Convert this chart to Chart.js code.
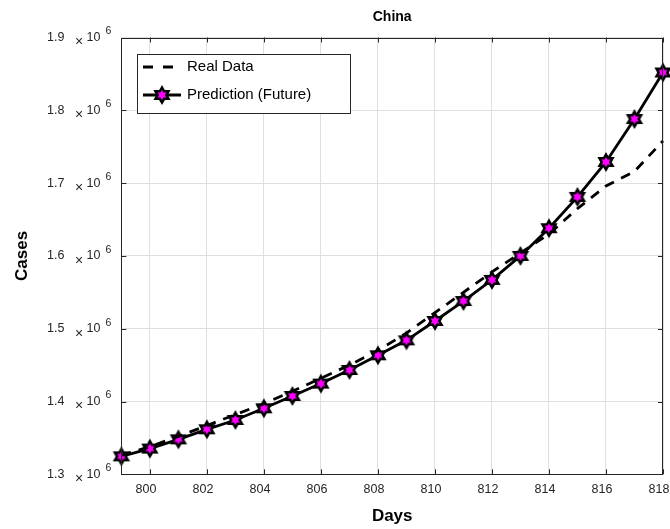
<!DOCTYPE html>
<html lang="en">
<head>
<meta charset="UTF-8">
<title>China</title>
<script src="https://cdn.jsdelivr.net/npm/chart.js"></script>
<style>
    body { margin: 0; background: #fff; }
    #wrap { width: 670px; height: 529px; }
</style>
</head>
<body>
<div id="wrap"><canvas id="myChart" width="670" height="529"></canvas></div>
<script>
const days = [799, 800, 801, 802, 803, 804, 805, 806, 807, 808, 809, 810, 811, 812, 813, 814, 815, 816, 817, 818];
const realData = [1.326e6, 1.338e6, 1.352e6, 1.367e6, 1.382e6, 1.397e6, 1.414e6, 1.432e6, 1.450e6, 1.470e6,
                  1.494e6, 1.522e6, 1.550e6, 1.578e6, 1.604e6, 1.630e6, 1.665e6, 1.696e6, 1.716e6, 1.758e6];
const prediction = [1.3247e6, 1.3353e6, 1.348e6, 1.3618e6, 1.3746e6, 1.3907e6, 1.4076e6, 1.4246e6, 1.4433e6, 1.4635e6,
                    1.484e6, 1.5106e6, 1.538e6, 1.567e6, 1.600e6, 1.638e6, 1.681e6, 1.729e6, 1.788e6, 1.852e6];
const xTicks = [800, 802, 804, 806, 808, 810, 812, 814, 816, 818];
const yTicks = [1.3e6, 1.4e6, 1.5e6, 1.6e6, 1.7e6, 1.8e6, 1.9e6];

const FONT = "'Liberation Sans', Arial, Helvetica, sans-serif";
const AXIS = '#262626';

// six pointed star marker: black edge, magenta inside
function hexagram(R, lw) {
    const size = Math.ceil(2 * (R + lw) + 4);
    const c = document.createElement('canvas');
    c.width = size; c.height = size;
    const g = c.getContext('2d');
    const cx = size / 2, cy = size / 2, r = R / Math.sqrt(3);
    g.beginPath();
    for (let i = 0; i < 12; i++) {
        const a = -Math.PI / 2 + i * Math.PI / 6;
        const rad = i % 2 === 0 ? R : r;
        const px = cx + rad * Math.cos(a), py = cy + rad * Math.sin(a);
        if (i === 0) g.moveTo(px, py); else g.lineTo(px, py);
    }
    g.closePath();
    g.fillStyle = '#ff00ff';
    g.fill();
    g.lineJoin = 'miter';
    g.miterLimit = 10;
    g.lineWidth = lw;
    g.strokeStyle = '#000';
    g.stroke();
    return c;
}
const star = hexagram(7.5, 2.5);

const decor = {
    id: 'decor',
    afterDraw(chart) {
        const {ctx, chartArea: a, scales: {x, y}} = chart;
        ctx.save();
        // box
        ctx.strokeStyle = AXIS;
        ctx.lineWidth = 1;
        ctx.strokeRect(Math.round(a.left) + 0.5, Math.round(a.top) + 0.5,
                       Math.round(a.right - a.left) - 1, Math.round(a.bottom - a.top) - 1);
        // inward ticks
        ctx.beginPath();
        xTicks.forEach(v => {
            const px = Math.round(x.getPixelForValue(v)) + 0.5;
            ctx.moveTo(px, a.bottom); ctx.lineTo(px, a.bottom - 5);
            ctx.moveTo(px, a.top); ctx.lineTo(px, a.top + 5);
        });
        yTicks.forEach(v => {
            const py = Math.round(y.getPixelForValue(v)) + 0.5;
            ctx.moveTo(a.left, py); ctx.lineTo(a.left + 5, py);
            ctx.moveTo(a.right, py); ctx.lineTo(a.right - 5, py);
        });
        ctx.stroke();
        // x10^6 after each y tick label
        ctx.fillStyle = AXIS;
        ctx.textBaseline = 'middle';
        yTicks.forEach(v => {
            const py = y.getPixelForValue(v);
            ctx.textAlign = 'center';
            ctx.font = '14px ' + FONT;
            ctx.fillText('\u00d7', 79, py + 5);
            ctx.textAlign = 'left';
            ctx.font = '12.5px ' + FONT;
            ctx.fillText('10', 86.5, py);
            ctx.font = '10.5px ' + FONT;
            ctx.fillText('6', 105.5, py - 6);
        });
        // legend
        const lx = 137.5, ly = 54.5, lw = 213, lh = 59;
        ctx.fillStyle = '#fff';
        ctx.fillRect(lx, ly, lw, lh);
        ctx.strokeStyle = AXIS;
        ctx.lineWidth = 1;
        ctx.strokeRect(lx, ly, lw, lh);
        ctx.strokeStyle = '#000';
        ctx.lineWidth = 3;
        ctx.setLineDash([10, 10]);
        ctx.beginPath();
        ctx.moveTo(143, 67); ctx.lineTo(173, 67);
        ctx.stroke();
        ctx.setLineDash([]);
        ctx.beginPath();
        ctx.moveTo(143, 95); ctx.lineTo(181, 95);
        ctx.stroke();
        ctx.drawImage(star, 162 - star.width / 2, 95 - star.height / 2);
        ctx.fillStyle = '#000';
        ctx.font = '15px ' + FONT;
        ctx.textAlign = 'left';
        ctx.fillText('Real Data', 187, 67);
        ctx.fillText('Prediction (Future)', 187, 95);
        ctx.restore();
    }
};

const ctx = document.getElementById('myChart').getContext('2d');
new Chart(ctx, {
    type: 'line',
    data: {
        datasets: [{
            label: 'Real Data',
            data: days.map((d, i) => ({x: d, y: realData[i]})),
            borderColor: '#000',
            borderWidth: 2.8,
            borderDash: [10, 8],
            pointRadius: 0,
            fill: false,
            tension: 0,
            clip: false
        }, {
            label: 'Prediction (Future)',
            data: days.map((d, i) => ({x: d, y: prediction[i]})),
            borderColor: '#000',
            borderWidth: 2.8,
            pointStyle: star,
            pointRadius: 8,
            fill: false,
            tension: 0,
            clip: false
        }]
    },
    options: {
        responsive: false,
        animation: false,
        layout: { autoPadding: false, padding: { right: 7 } },
        plugins: {
            legend: { display: false },
            tooltip: { enabled: false },
            title: {
                display: true,
                text: 'China',
                fullSize: false,
                color: '#000',
                font: { family: FONT, size: 14, weight: 'bold' },
                padding: { top: 9, bottom: 11.7 }
            }
        },
        scales: {
            x: {
                type: 'linear',
                min: 799,
                max: 818,
                afterBuildTicks: s => { s.ticks = xTicks.map(v => ({value: v})); },
                afterFit: s => { s.height = 54.7; s.paddingRight = 0; s.paddingLeft = 0; },
                grid: { color: '#dfdfdf', drawTicks: false },
                border: { display: false },
                ticks: {
                    color: AXIS,
                    font: { family: FONT, size: 12.5 },
                    padding: 8,
                    labelOffset: -4,
                    maxRotation: 0,
                    autoSkip: false
                },
                title: {
                    display: true,
                    text: 'Days',
                    color: '#000',
                    font: { family: FONT, size: 17, weight: 'bold' },
                    padding: 2
                }
            },
            y: {
                min: 1.3e6,
                max: 1.9e6,
                afterBuildTicks: s => { s.ticks = yTicks.map(v => ({value: v})); },
                afterFit: s => { s.width = 121.4; s.paddingTop = 0; s.paddingBottom = 0; },
                grid: { color: '#dfdfdf', drawTicks: false },
                border: { display: false },
                ticks: {
                    color: AXIS,
                    font: { family: FONT, size: 12.5 },
                    padding: 57,
                    callback: v => (v / 1e6).toFixed(1)
                },
                title: {
                    display: true,
                    text: 'Cases',
                    color: '#000',
                    font: { family: FONT, size: 17, weight: 'bold' },
                    padding: 12
                }
            }
        }
    },
    plugins: [decor]
});
</script>
</body>
</html>
